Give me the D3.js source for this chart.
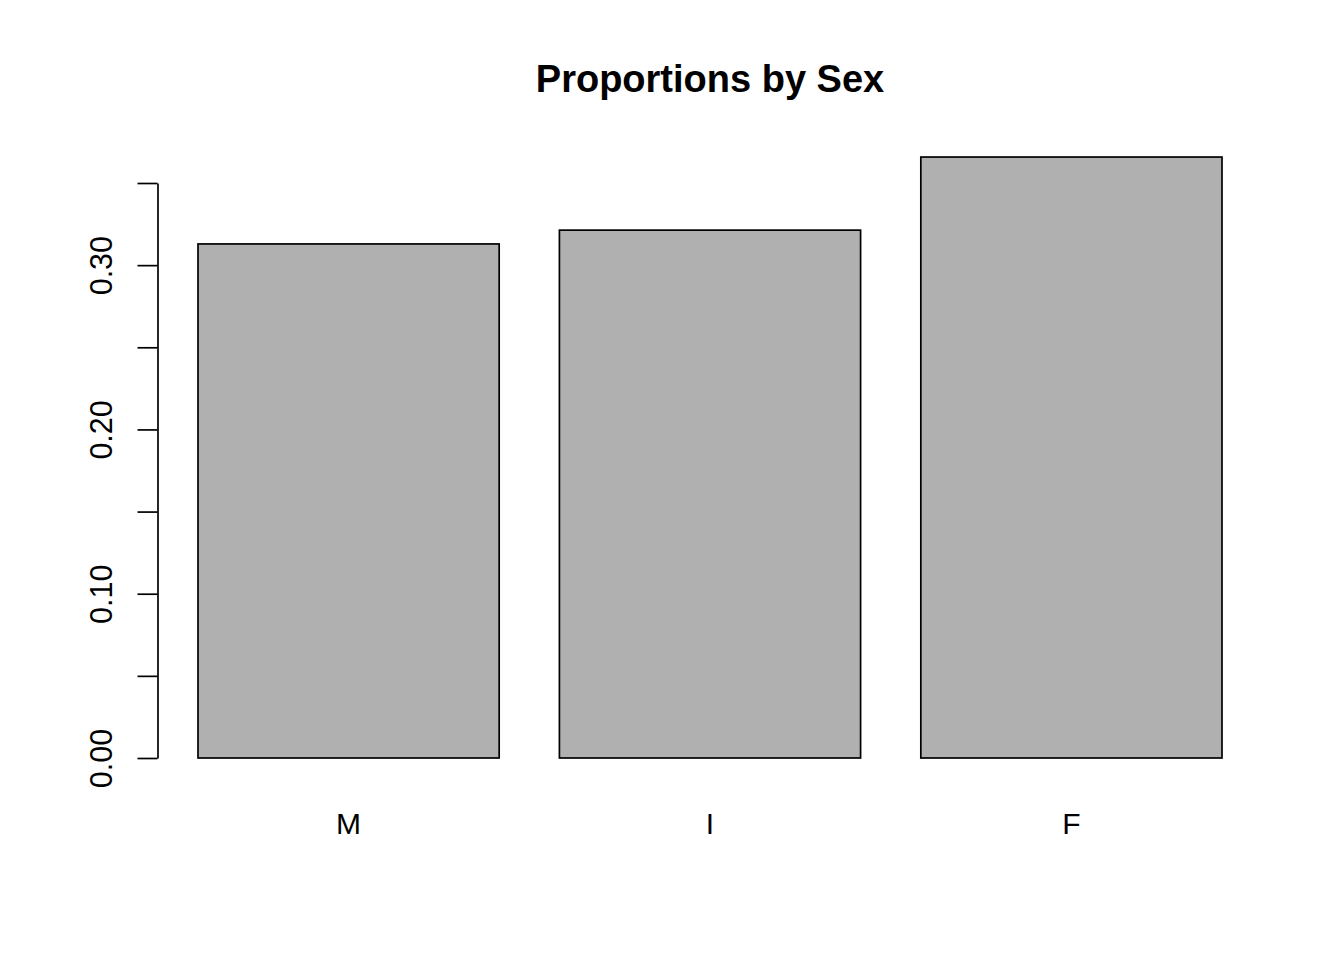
<!DOCTYPE html>
<html>
<head>
<meta charset="utf-8">
<script src="https://cdn.jsdelivr.net/npm/d3@7"></script>
<style>
  body { margin: 0; background: #fff; }
  svg { display: block; font-family: "Liberation Sans", Arial, Helvetica, sans-serif; }
</style>
</head>
<body>
<svg width="1344" height="960"></svg>
<script>
var categories = ["M", "I", "F"];
var proportions = [0.3129, 0.3213, 0.3658];
var yTicks = [0, 0.05, 0.10, 0.15, 0.20, 0.25, 0.30, 0.35];
var yLabelled = [0, 0.10, 0.20, 0.30];
var title = "Proportions by Sex";

var svg = d3.select("svg");

var data = categories.map(function(c, i) { return { cat: c, value: proportions[i] }; });

var x = d3.scaleBand()
    .domain(categories)
    .range([198, 1222])
    .paddingInner(1 / 6)
    .paddingOuter(0);

var y = d3.scaleLinear()
    .domain([0, 0.35])
    .range([758, 183]);

// bars
svg.append("g")
    .selectAll("rect")
    .data(data)
    .enter().append("rect")
    .attr("x", function(d) { return x(d.cat); })
    .attr("y", function(d) { return y(d.value); })
    .attr("width", x.bandwidth())
    .attr("height", function(d) { return y(0) - y(d.value); })
    .attr("fill", "#b0b0b0")
    .attr("stroke", "#000")
    .attr("stroke-width", 1.7);

// category labels
svg.append("g")
    .selectAll("text")
    .data(data)
    .enter().append("text")
    .attr("x", function(d) { return x(d.cat) + x.bandwidth() / 2; })
    .attr("y", 834)
    .attr("text-anchor", "middle")
    .attr("font-size", 30)
    .text(function(d) { return d.cat; });

// y axis
var yAxis = d3.axisLeft(y)
    .tickValues(yTicks)
    .tickSize(20)
    .tickSizeOuter(0)
    .tickFormat(function(d) {
        return yLabelled.some(function(v) { return Math.abs(v - d) < 1e-9; }) ? d3.format(".2f")(d) : "";
    });

var gy = svg.append("g")
    .attr("transform", "translate(157.5,0)")
    .call(yAxis);

gy.select(".domain").attr("stroke", "#000").attr("stroke-width", 1.7);
gy.selectAll(".tick line").attr("stroke", "#000").attr("stroke-width", 1.7);
gy.selectAll(".tick text")
    .attr("font-size", 30.5)
    .attr("font-family", "Liberation Sans, Arial, sans-serif")
    .attr("fill", "#000")
    .attr("x", null)
    .attr("dy", null)
    .attr("text-anchor", "middle")
    .attr("transform", "translate(-45.5,0) rotate(-90)");

// title
svg.append("text")
    .attr("x", 710)
    .attr("y", 92)
    .attr("text-anchor", "middle")
    .attr("font-size", 38)
    .attr("font-weight", "bold")
    .text(title);
</script>
</body>
</html>
